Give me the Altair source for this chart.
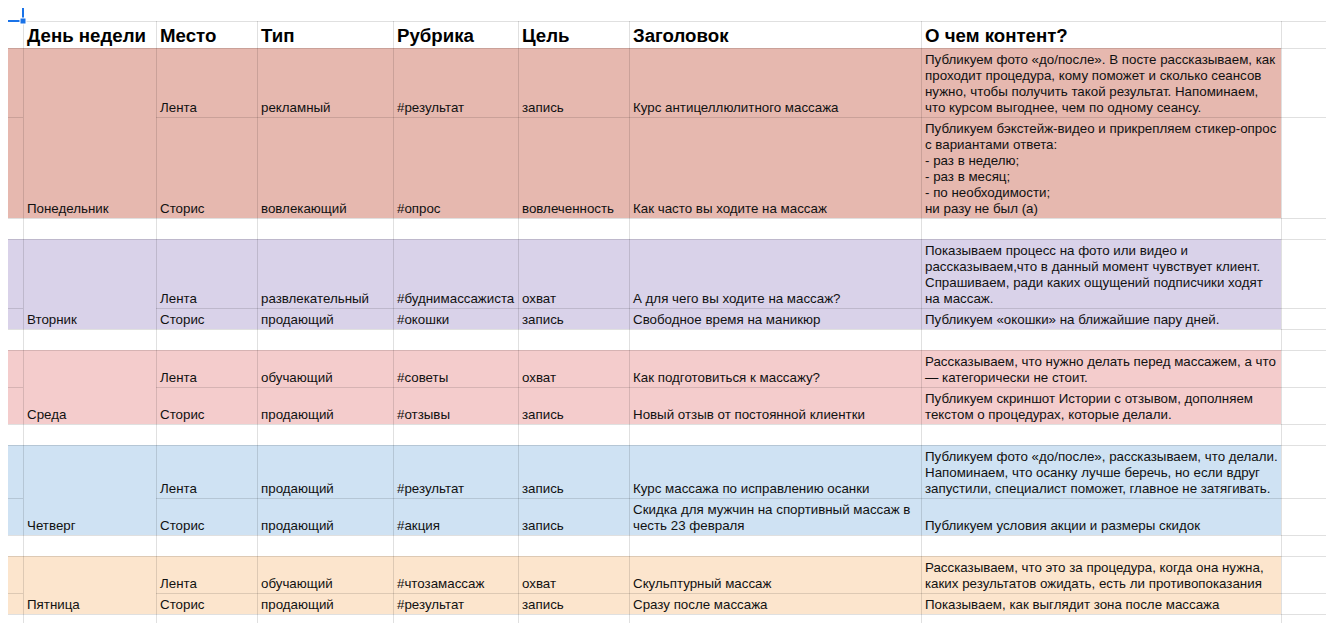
import altair as alt
import pandas as pd

# ---------------- data ----------------
headers = ["День недели", "Место", "Тип", "Рубрика", "Цель", "Заголовок", "О чем контент?"]
days = ["Понедельник", "Вторник", "Среда", "Четверг", "Пятница"]
day_colors = ["#e6b8af", "#d9d2e9", "#f4cccc", "#cfe2f3", "#fce5cd"]
places = ["Лента", "Сторис"]
types = [["рекламный", "вовлекающий"], ["развлекательный", "продающий"], ["обучающий", "продающий"],
         ["продающий", "продающий"], ["обучающий", "продающий"]]
rubrics = [["#результат", "#опрос"], ["#буднимассажиста", "#окошки"], ["#советы", "#отзывы"],
           ["#результат", "#акция"], ["#чтозамассаж", "#результат"]]
goals = [["запись", "вовлеченность"], ["охват", "запись"], ["охват", "запись"],
         ["запись", "запись"], ["охват", "запись"]]
titles = [
    [["Курс антицеллюлитного массажа"], ["Как часто вы ходите на массаж"]],
    [["А для чего вы ходите на массаж?"], ["Свободное время на маникюр"]],
    [["Как подготовиться к массажу?"], ["Новый отзыв от постоянной клиентки"]],
    [["Курс массажа по исправлению осанки"], ["Скидка для мужчин на спортивный массаж в", "честь 23 февраля"]],
    [["Скульптурный массаж"], ["Сразу после массажа"]],
]
contents = [
    [["Публикуем фото «до/после». В посте рассказываем, как",
      "проходит процедура, кому поможет и сколько сеансов",
      "нужно, чтобы получить такой результат. Напоминаем,",
      "что курсом выгоднее, чем по одному сеансу."],
     ["Публикуем бэкстейж-видео и прикрепляем стикер-опрос",
      "с вариантами ответа:",
      "- раз в неделю;",
      "- раз в месяц;",
      "- по необходимости;",
      "ни разу не был (а)"]],
    [["Показываем процесс на фото или видео и",
      "рассказываем,что в данный момент чувствует клиент.",
      "Спрашиваем, ради каких ощущений подписчики ходят",
      "на массаж."],
     ["Публикуем «окошки» на ближайшие пару дней."]],
    [["Рассказываем, что нужно делать перед массажем, а что",
      "— категорически не стоит."],
     ["Публикуем скриншот Истории с отзывом, дополняем",
      "текстом о процедурах, которые делали."]],
    [["Публикуем фото «до/после», рассказываем, что делали.",
      "Напоминаем, что осанку лучше беречь, но если вдруг",
      "запустили, специалист поможет, главное не затягивать."],
     ["Публикуем условия акции и размеры скидок"]],
    [["Рассказываем, что это за процедура, когда она нужна,",
      "каких результатов ожидать, есть ли противопоказания"],
     ["Показываем, как выглядит зона после массажа"]],
]

# ---------------- layout (sheet geometry, px) ----------------
COL_EDGES = [0, 23, 156, 257, 393, 518, 629, 921, 1281, 1334]
HEADER_TOP, HEADER_BOTTOM = 21, 48
DAY_ROWS = [(48, 117, 218), (239, 308, 329), (350, 387, 424), (445, 498, 535), (556, 593, 614)]
SHEET_BOTTOM = 635
PAD_X, PAD_B, LINE_H = 4, 5, 16

X0, Y0 = 8, 8
W, H = 1318, 615

xs = alt.Scale(domain=[X0, X0 + W], nice=False, zero=False)
ys = alt.Scale(domain=[Y0, Y0 + H], nice=False, zero=False, reverse=True)

# backgrounds
rects = []
for d, (top, mid, bot) in enumerate(DAY_ROWS):
    rects.append(dict(x=COL_EDGES[0], x2=COL_EDGES[8], y=top, y2=bot, fill=day_colors[d]))
rect_df = pd.DataFrame(rects)

# grid lines
lines = []
h_full = [HEADER_TOP, HEADER_BOTTOM]
for (top, mid, bot) in DAY_ROWS:
    h_full += [top, bot]
    lines.append(dict(x=COL_EDGES[0], x2=COL_EDGES[1], y=mid + 0.5, y2=mid + 0.5))
    lines.append(dict(x=COL_EDGES[2], x2=COL_EDGES[-1], y=mid + 0.5, y2=mid + 0.5))
h_full.append(SHEET_BOTTOM)
for yv in sorted(set(h_full)):
    lines.append(dict(x=COL_EDGES[0], x2=COL_EDGES[-1], y=yv + 0.5, y2=yv + 0.5))
for xv in COL_EDGES[:-1]:
    lines.append(dict(x=xv + 0.5, x2=xv + 0.5, y=HEADER_TOP, y2=SHEET_BOTTOM))
line_df = pd.DataFrame(lines)

# texts
body = []
for d, (top, mid, bot) in enumerate(DAY_ROWS):
    body.append(dict(x=COL_EDGES[1] + PAD_X, y=bot - PAD_B, t=days[d]))
    for r, rb in enumerate([mid, bot]):
        vals = [[places[r]], [types[d][r]], [rubrics[d][r]], [goals[d][r]], titles[d][r], contents[d][r]]
        for c, lines_txt in enumerate(vals):
            n = len(lines_txt)
            for i, s in enumerate(lines_txt):
                body.append(dict(x=COL_EDGES[c + 2] + PAD_X, y=rb - PAD_B - (n - 1 - i) * LINE_H, t=s))
body_df = pd.DataFrame(body)

head_df = pd.DataFrame([dict(x=COL_EDGES[i + 1] + PAD_X, y=HEADER_BOTTOM - 6, t=h) for i, h in enumerate(headers)])

sel_df = pd.DataFrame([dict(x=1, x2=23, y=1, y2=21)])
handle_df = pd.DataFrame([dict(x=20, x2=26, y=18, y2=24)])

X = lambda f: alt.X(f, scale=xs, axis=None)
Y = lambda f: alt.Y(f, scale=ys, axis=None)

bg = alt.Chart(rect_df).mark_rect(clip=True).encode(
    x=X("x:Q"), x2="x2:Q", y=Y("y:Q"), y2="y2:Q", color=alt.Color("fill:N", scale=None))

grid = alt.Chart(line_df).mark_rule(clip=True, color="#000000", opacity=0.12, strokeWidth=1).encode(
    x=X("x:Q"), x2="x2:Q", y=Y("y:Q"), y2="y2:Q")

txt = alt.Chart(body_df).mark_text(clip=True, align="left", baseline="alphabetic",
                                   font="Liberation Sans", fontSize=13.33, color="#111111").encode(
    x=X("x:Q"), y=Y("y:Q"), text="t:N")

htxt = alt.Chart(head_df).mark_text(clip=True, align="left", baseline="alphabetic",
                                    font="Liberation Sans", fontSize=18.67, fontWeight="bold",
                                    color="#000000").encode(
    x=X("x:Q"), y=Y("y:Q"), text="t:N")

sel = alt.Chart(sel_df).mark_rect(clip=True, fill=None, fillOpacity=0, stroke="#1a73e8", strokeWidth=2).encode(
    x=X("x:Q"), x2="x2:Q", y=Y("y:Q"), y2="y2:Q")
handle = alt.Chart(handle_df).mark_rect(clip=True, color="#1a73e8", stroke="#ffffff", strokeWidth=1).encode(
    x=X("x:Q"), x2="x2:Q", y=Y("y:Q"), y2="y2:Q")

chart = alt.layer(bg, grid, txt, htxt, sel, handle).properties(
    width=W, height=H, padding=0, autosize=alt.AutoSizeParams(type="none"),
    background="#ffffff"
).configure_view(stroke=None)

chart.save("out.html", embed_options={"renderer": "svg", "actions": False})
